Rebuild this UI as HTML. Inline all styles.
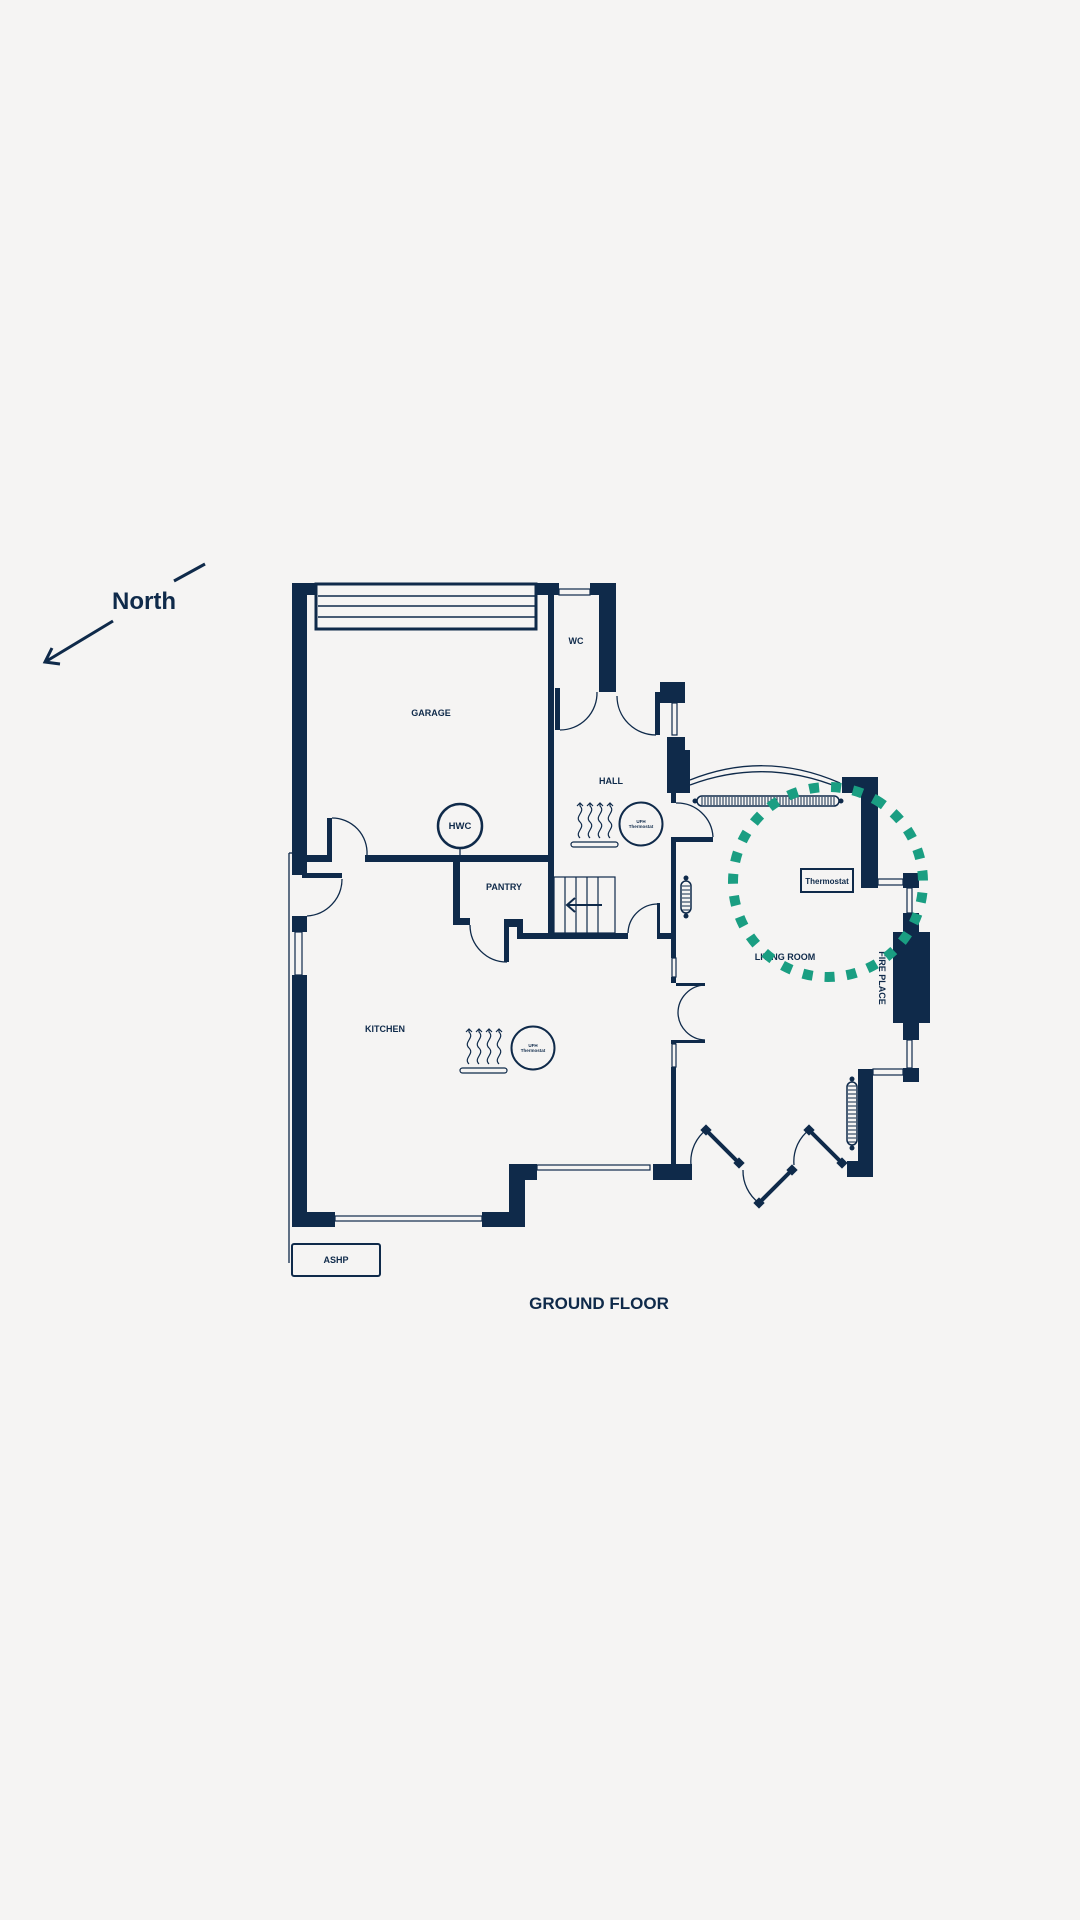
<!DOCTYPE html>
<html><head><meta charset="utf-8"><style>
html,body{margin:0;padding:0;background:#f5f4f3}
svg{display:block}
text{font-family:"Liberation Sans",sans-serif;fill:#0f2a4a;font-weight:bold}
</style></head><body>
<svg width="1080" height="1920" viewBox="0 0 1080 1920" xmlns="http://www.w3.org/2000/svg">
<rect width="1080" height="1920" fill="#f5f4f3"/>
<g fill="#0f2a4a" stroke="none">
<rect x="292" y="583" width="15" height="292"/>
<rect x="292" y="583" width="25" height="12"/>
<rect x="537" y="583" width="22" height="12"/>
<rect x="548" y="583" width="6" height="352"/>
<rect x="599" y="583" width="17" height="109"/>
<rect x="590" y="583" width="26" height="12"/>
<rect x="555" y="688" width="5" height="42"/>
<rect x="307" y="855" width="23" height="7"/>
<rect x="327" y="818" width="5" height="44"/>
<rect x="365" y="855" width="189" height="7"/>
<rect x="453" y="860" width="7" height="65"/>
<rect x="453" y="918" width="17" height="7"/>
<rect x="504" y="919" width="19" height="8"/>
<rect x="504" y="919" width="5" height="43"/>
<rect x="517" y="919" width="6" height="20"/>
<rect x="517" y="933" width="111" height="6"/>
<rect x="657" y="903" width="3" height="36"/>
<rect x="657" y="933" width="15" height="6"/>
<rect x="655" y="692" width="5" height="43"/>
<rect x="660" y="682" width="25" height="21"/>
<rect x="667" y="737" width="18" height="56"/>
<rect x="667" y="750" width="23" height="43"/>
<rect x="671" y="793" width="5" height="10"/>
<rect x="671" y="837" width="5" height="121"/>
<rect x="671" y="837" width="42" height="5"/>
<rect x="671" y="977" width="5" height="6"/>
<rect x="676" y="983" width="29" height="3"/>
<rect x="676" y="1040" width="29" height="3"/>
<rect x="671" y="1040" width="5" height="4"/>
<rect x="671" y="1067" width="5" height="98"/>
<rect x="653" y="1164" width="39" height="16"/>
<rect x="842" y="777" width="36" height="16"/>
<rect x="861" y="777" width="17" height="111"/>
<rect x="903" y="873" width="16" height="15"/>
<rect x="903" y="913" width="16" height="19"/>
<rect x="893" y="932" width="37" height="91"/>
<rect x="903" y="1023" width="16" height="17"/>
<rect x="903" y="1068" width="16" height="14"/>
<rect x="858" y="1069" width="15" height="108"/>
<rect x="847" y="1161" width="26" height="16"/>
<rect x="509" y="1164" width="28" height="16"/>
<rect x="509" y="1164" width="16" height="63"/>
<rect x="482" y="1212" width="43" height="15"/>
<rect x="292" y="1212" width="43" height="15"/>
<rect x="292" y="975" width="15" height="252"/>
<rect x="292" y="916" width="15" height="16"/>
<rect x="302" y="873" width="40" height="5"/>
<rect x="292" y="840" width="15" height="33"/>
</g>
<g fill="none" stroke="#0f2a4a">
<rect x="316" y="584" width="220" height="45" stroke-width="3"/>
<line x1="318" y1="596" x2="535" y2="596" stroke-width="1.5"/>
<line x1="318" y1="606" x2="535" y2="606" stroke-width="1.5"/>
<line x1="318" y1="617" x2="535" y2="617" stroke-width="1.5"/>
<rect x="559" y="589" width="31" height="6" stroke-width="1.2"/>
<rect x="672" y="703" width="5" height="32" stroke-width="1.2"/>
<rect x="672" y="958" width="4" height="19" stroke-width="1.2"/>
<rect x="672" y="1044" width="4" height="23" stroke-width="1.2"/>
<rect x="878" y="879" width="25" height="6" stroke-width="1.2"/>
<rect x="907" y="888" width="5" height="25" stroke-width="1.2"/>
<rect x="907" y="1040" width="5" height="28" stroke-width="1.2"/>
<rect x="873" y="1069" width="30" height="6" stroke-width="1.2"/>
<rect x="537" y="1165" width="113" height="5" stroke-width="1.2"/>
<rect x="335" y="1216" width="147" height="5" stroke-width="1.2"/>
<rect x="295" y="932" width="7" height="43" stroke-width="1.2"/>
<g stroke-width="1.3">
<path d="M560 730 A37 37 0 0 0 597 692"/>
<path d="M617 696 A39 39 0 0 0 656 735"/>
<path d="M332 818 A35 35 0 0 1 367 855"/>
<path d="M307 916 A37 37 0 0 0 342 879"/>
<path d="M470 925 A37 37 0 0 0 507 962"/>
<path d="M628 933 A30 30 0 0 1 658 904"/>
<path d="M676 803 A36 36 0 0 1 713 837"/>
<path d="M705 985 A28 28 0 0 0 678 1013 A28 28 0 0 0 705 1040"/>
<path d="M691 1165 A40 40 0 0 1 706 1130"/>
<path d="M743 1170 A40 40 0 0 0 759 1203"/>
<path d="M794 1165 A40 40 0 0 1 809 1130"/>
<path d="M690 780 Q765 750 840 783"/>
<path d="M690 785 Q765 757 840 788"/>
<line x1="289" y1="853" x2="289" y2="1263"/>
<line x1="289" y1="853" x2="292" y2="853"/>
<line x1="460" y1="848" x2="460" y2="855"/>
</g>
<g stroke-width="4">
<line x1="706" y1="1130" x2="739" y2="1163"/>
<line x1="759" y1="1203" x2="792" y2="1170"/>
<line x1="809" y1="1130" x2="842" y2="1163"/>
</g>
<g stroke-width="1.2">
<rect x="554" y="877" width="61" height="56"/>
<line x1="565" y1="877" x2="565" y2="933"/><line x1="576" y1="877" x2="576" y2="933"/>
<line x1="587" y1="877" x2="587" y2="933"/><line x1="598" y1="877" x2="598" y2="933"/>
</g>
<path d="M602 905 H568 M575 898 L567 905 L575 912" stroke-width="2"/>
<circle cx="460" cy="826" r="22" stroke-width="2.5"/>
<circle cx="641" cy="824" r="21.5" stroke-width="2"/>
<circle cx="533" cy="1048" r="21.5" stroke-width="2"/>
<rect x="801" y="869" width="52" height="23" stroke-width="2"/>
<rect x="292" y="1244" width="88" height="32" rx="2" stroke-width="2"/>
<g stroke-width="1.2">
<rect x="571" y="842" width="47" height="5" rx="2.5"/>
<path d="M580 838 c-6 -6 6 -10 0 -16 c-6 -6 6 -10 0 -16 l0 -3 M590 838 c-6 -6 6 -10 0 -16 c-6 -6 6 -10 0 -16 l0 -3 M600 838 c-6 -6 6 -10 0 -16 c-6 -6 6 -10 0 -16 l0 -3 M610 838 c-6 -6 6 -10 0 -16 c-6 -6 6 -10 0 -16 l0 -3"/>
<path d="M577 806 l3 -3 l3 3 M587 806 l3 -3 l3 3 M597 806 l3 -3 l3 3 M607 806 l3 -3 l3 3"/>
<rect x="460" y="1068" width="47" height="5" rx="2.5"/>
<path d="M469 1064 c-6 -6 6 -10 0 -16 c-6 -6 6 -10 0 -16 l0 -3 M479 1064 c-6 -6 6 -10 0 -16 c-6 -6 6 -10 0 -16 l0 -3 M489 1064 c-6 -6 6 -10 0 -16 c-6 -6 6 -10 0 -16 l0 -3 M499 1064 c-6 -6 6 -10 0 -16 c-6 -6 6 -10 0 -16 l0 -3"/>
<path d="M466 1032 l3 -3 l3 3 M476 1032 l3 -3 l3 3 M486 1032 l3 -3 l3 3 M496 1032 l3 -3 l3 3"/>
</g>
<rect x="697" y="796" width="142" height="10" rx="5" stroke-width="1.5"/>
<rect x="681" y="881" width="10" height="32" rx="5" stroke-width="1.5"/>
<rect x="847" y="1082" width="10" height="63" rx="5" stroke-width="1.5"/>
<g stroke-width="3">
<line x1="205" y1="564" x2="174" y2="581"/>
<line x1="113" y1="621" x2="45" y2="662"/>
<path d="M52 648 L45 662 L60 664"/>
</g>
</g>
<g stroke="#0f2a4a" stroke-width="1">
<path d="M702 797V805M705 797V805M708 797V805M711 797V805M714 797V805M717 797V805M720 797V805M723 797V805M726 797V805M729 797V805M732 797V805M735 797V805M738 797V805M741 797V805M744 797V805M747 797V805M750 797V805M753 797V805M756 797V805M759 797V805M762 797V805M765 797V805M768 797V805M771 797V805M774 797V805M777 797V805M780 797V805M783 797V805M786 797V805M789 797V805M792 797V805M795 797V805M798 797V805M801 797V805M804 797V805M807 797V805M810 797V805M813 797V805M816 797V805M819 797V805M822 797V805M825 797V805M828 797V805M831 797V805M834 797V805"/>
<path d="M682 886H690M682 890H690M682 894H690M682 898H690M682 902H690M682 906H690M682 910H690"/>
<path d="M848 1086H856M848 1090H856M848 1094H856M848 1098H856M848 1102H856M848 1106H856M848 1110H856M848 1114H856M848 1118H856M848 1122H856M848 1126H856M848 1130H856M848 1134H856M848 1138H856M848 1142H856"/>
</g>
<g fill="#0f2a4a">
<circle cx="695" cy="801" r="2.5"/><circle cx="841" cy="801" r="2.5"/>
<circle cx="686" cy="878" r="2.5"/><circle cx="686" cy="916" r="2.5"/>
<circle cx="852" cy="1079" r="2.5"/><circle cx="852" cy="1148" r="2.5"/>
<rect x="702" y="1126" width="8" height="8" transform="rotate(45 706 1130)"/>
<rect x="735" y="1159" width="8" height="8" transform="rotate(45 739 1163)"/>
<rect x="755" y="1199" width="8" height="8" transform="rotate(45 759 1203)"/>
<rect x="788" y="1166" width="8" height="8" transform="rotate(45 792 1170)"/>
<rect x="805" y="1126" width="8" height="8" transform="rotate(45 809 1130)"/>
<rect x="838" y="1159" width="8" height="8" transform="rotate(45 842 1163)"/>
</g>
<text x="431" y="716" font-size="9" text-anchor="middle">GARAGE</text>
<text x="576" y="644" font-size="9" text-anchor="middle">WC</text>
<text x="611" y="784" font-size="9" text-anchor="middle">HALL</text>
<text x="460" y="829" font-size="9.5" text-anchor="middle">HWC</text>
<text x="504" y="890" font-size="9" text-anchor="middle">PANTRY</text>
<text x="385" y="1032" font-size="9" text-anchor="middle">KITCHEN</text>
<text x="641" y="823" font-size="4.5" text-anchor="middle">UFH</text>
<text x="641" y="828" font-size="4.5" text-anchor="middle">Thermostat</text>
<text x="533" y="1047" font-size="4.5" text-anchor="middle">UFH</text>
<text x="533" y="1052" font-size="4.5" text-anchor="middle">Thermostat</text>
<text x="827" y="884" font-size="8" text-anchor="middle">Thermostat</text>
<text x="785" y="960" font-size="9" text-anchor="middle">LIVING ROOM</text>
<text x="0" y="0" font-size="9" text-anchor="middle" transform="translate(879 978) rotate(90)">FIRE PLACE</text>
<text x="336" y="1263" font-size="9" text-anchor="middle">ASHP</text>
<text x="144" y="609" font-size="24" text-anchor="middle">North</text>
<text x="599" y="1309" font-size="17" text-anchor="middle">GROUND FLOOR</text>
<circle cx="828" cy="882" r="95" fill="none" stroke="#1a9e82" stroke-width="10" stroke-dasharray="10 12" transform="rotate(-60 828 882)"/>
</svg>
</body></html>
